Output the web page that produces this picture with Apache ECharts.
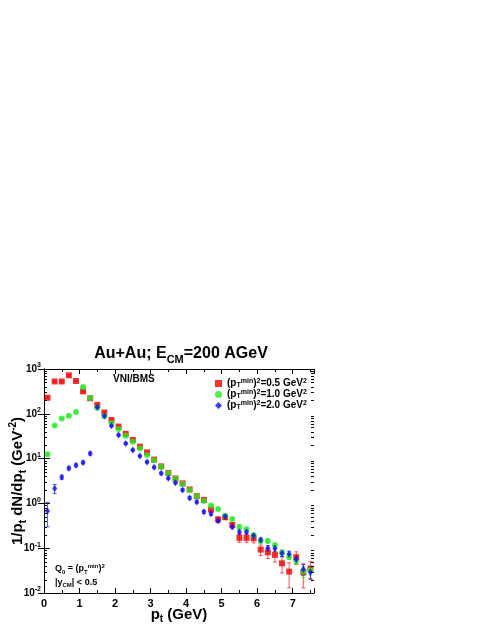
<!DOCTYPE html>
<html>
<head>
<meta charset="utf-8">
<title>Au+Au pt spectrum</title>
<script src="https://cdn.jsdelivr.net/npm/echarts@6/dist/echarts.min.js"></script>
<style>
html, body { margin: 0; padding: 0; background: #fff; }
#chart { width: 485px; height: 627px; }
</style>
</head>
<body>
<div id="chart"></div>
<script>
// pt bin centres (GeV)
var ptBins = [0.1, 0.3, 0.5, 0.7, 0.9, 1.1, 1.3, 1.5, 1.7, 1.9, 2.1, 2.3, 2.5, 2.7, 2.9, 3.1, 3.3, 3.5, 3.7,
	3.9, 4.1, 4.3, 4.5, 4.7, 4.9, 5.1, 5.3, 5.5, 5.7, 5.9, 6.1, 6.3, 6.5, 6.7, 6.9, 7.1, 7.3, 7.5];

// (pTmin)^2 = 0.5 GeV^2
var redVals = [228, 527, 527, 723, 540, 316, 222, 158, 107, 73, 52, 35.7, 26, 18.5, 13.8, 9.5, 6.7, 4.8, 3.6,
	2.8, 2.05, 1.45, 1.2, 0.73, 0.44, 0.49, 0.33, 0.17, 0.17, 0.166, 0.093, 0.081, 0.071, 0.046, 0.030, 0.063, 0.029, 0.035];
var redErr = [10, 20, 20, 30, 20, 12, 8, 6, 4, 3, 2, 1.4, 1, 0.8, 0.6, 0.4, 0.3, 0.22, 0.17,
	0.14, 0.1, 0.08, 0.07, 0.06, 0.05, 0.05, 0.04, 0.035, 0.035, 0.035, 0.025, 0.022, 0.022, 0.018, 0.017, 0.02, 0.016, 0.015];

// (pTmin)^2 = 1.0 GeV^2
var greenVals = [12.5, 55, 79, 91, 110, 395, 225, 137, 88, 62, 46, 32.5, 23.7, 17, 12, 9.2, 6.6, 4.75, 3.55,
	2.72, 2.0, 1.45, 1.13, 0.9, 0.75, 0.53, 0.45, 0.30, 0.264, 0.195, 0.145, 0.145, 0.117, 0.08, 0.065, 0.052, 0.030, 0.032];
var greenErr = [0.6, 2, 3, 3, 4, 12, 8, 5, 3, 2, 1.5, 1, 0.8, 0.6, 0.4, 0.3, 0.22, 0.17, 0.13,
	0.1, 0.08, 0.06, 0.05, 0.04, 0.035, 0.03, 0.025, 0.02, 0.018, 0.016, 0.014, 0.013, 0.012, 0.01, 0.009, 0.008, 0.008, 0.007];

// (pTmin)^2 = 2.0 GeV^2
var blueVals = [0.68, 2.15, 3.85, 6.1, 7.1, 8.2, 13, 140, 89, 54, 33.5, 21.8, 15.5, 11.4, 8.4, 6.4, 4.7, 3.65, 2.9,
	2.0, 1.32, 1.08, 0.65, 0.59, 0.41, 0.51, 0.30, 0.23, 0.23, 0.19, 0.152, 0.10, 0.10, 0.077, 0.074, 0.057, 0.034, 0.029];
var blueErr = [0.38, 0.5, 0.4, 0.5, 0.5, 0.6, 1, 6, 4, 2.5, 1.6, 1.1, 0.8, 0.6, 0.45, 0.35, 0.26, 0.2, 0.16,
	0.12, 0.09, 0.07, 0.05, 0.05, 0.035, 0.04, 0.03, 0.025, 0.022, 0.02, 0.018, 0.015, 0.015, 0.012, 0.012, 0.01, 0.009, 0.008];

var seriesNames = ['r05', 'r10', 'r20'];
var legendTexts = {
	r05: '{t|(p}{sb|T}{sp|min}{t|)}{sp|2}{t|=0.5 GeV}{sp|2}',
	r10: '{t|(p}{sb|T}{sp|min}{t|)}{sp|2}{t|=1.0 GeV}{sp|2}',
	r20: '{t|(p}{sb|T}{sp|min}{t|)}{sp|2}{t|=2.0 GeV}{sp|2}'
};

var xTickLabels = ['0', '1', '2', '3', '4', '5', '6', '7'];

var FONT = 'Liberation Sans, Arial, Helvetica, sans-serif';

/**
 * 数据点 [pt, value]
 */
function points(vals) {
	return ptBins.map(function(x, i) { return [x, vals[i]]; });
}

/**
 * 误差棒系列
 */
function errSeries(vals, errs, color) {
	var data = ptBins.map(function(x, i) {
		var lo = vals[i] - errs[i];
		if (lo < 0.0101) lo = 0.0101;
		return [x, vals[i], lo, vals[i] + errs[i]];
	});
	return {
		type: 'custom',
		silent: true,
		clip: true,
		z: 1,
		data: data,
		encode: { x: 0, y: 1 },
		renderItem: function(params, api) {
			var lo = api.coord([api.value(0), api.value(2)]);
			var hi = api.coord([api.value(0), api.value(3)]);
			var st = { stroke: color, lineWidth: 1, opacity: 0.75 };
			return {
				type: 'group',
				children: [
					{ type: 'line', shape: { x1: lo[0], y1: lo[1], x2: hi[0], y2: hi[1] }, style: st },
					{ type: 'line', shape: { x1: lo[0] - 2, y1: lo[1], x2: lo[0] + 2, y2: lo[1] }, style: st },
					{ type: 'line', shape: { x1: hi[0] - 2, y1: hi[1], x2: hi[0] + 2, y2: hi[1] }, style: st }
				]
			};
		}
	};
}

// log axis minor ticks (2..9 in each decade)
var minorTickVals = [];
for (var e = -2; e <= 2; e++) {
	for (var m = 2; m <= 9; m++) minorTickVals.push([0, m * Math.pow(10, e)]);
}

function tickSeries() {
	return {
		type: 'custom',
		silent: true,
		z: 5,
		data: minorTickVals,
		encode: { x: 0, y: 1 },
		renderItem: function(params, api) {
			var p = api.coord([0, api.value(1)]);
			var cs = params.coordSys;
			var st = { stroke: '#000', lineWidth: 1 };
			var y = Math.round(p[1]) + 0.5;
			return {
				type: 'group',
				children: [
					{ type: 'line', shape: { x1: cs.x, y1: y, x2: cs.x + 3, y2: y }, style: st },
					{ type: 'line', shape: { x1: cs.x + cs.width - 3, y1: y, x2: cs.x + cs.width, y2: y }, style: st }
				]
			};
		}
	};
}

var axisBase = {
	axisLine: { show: true, lineStyle: { color: '#000', width: 1 } },
	splitLine: { show: false }
};

function initChart() {
	var myChart = echarts.init(document.getElementById('chart'));

	var option = {
		backgroundColor: '#fff',
		animation: false,
		title: {
			text: '{a|Au+Au; E}{s|CM}{a|=200 AGeV}',
			left: 176,
			top: 338,
			textAlign: 'center',
			textStyle: {
				rich: {
					a: { fontFamily: FONT, fontSize: 16, fontWeight: 'bold', color: '#000', lineHeight: 22 },
					s: { fontFamily: FONT, fontSize: 11, fontWeight: 'bold', color: '#000', verticalAlign: 'bottom', lineHeight: 14 }
				}
			}
		},
		grid: { left: 44, top: 369, width: 270, height: 224, outerBoundsMode: 'none', containLabel: false },
		legend: {
			data: seriesNames,
			orient: 'vertical',
			left: 210,
			top: 373,
			itemWidth: 7,
			itemHeight: 7,
			itemGap: 0,
			selectedMode: false,
			formatter: function(name) { return legendTexts[name]; },
			textStyle: {
				rich: {
					t: { fontFamily: FONT, fontSize: 10, fontWeight: 'bold', color: '#000', lineHeight: 11 },
					sb: { fontFamily: FONT, fontSize: 7, fontWeight: 'bold', color: '#000', verticalAlign: 'bottom', lineHeight: 7 },
					sp: { fontFamily: FONT, fontSize: 7, fontWeight: 'bold', color: '#000', verticalAlign: 'top', lineHeight: 7 }
				}
			}
		},
		xAxis: [
			echarts.util.merge({
				type: 'value',
				min: 0,
				max: 7.6,
				interval: 1,
				position: 'bottom',
				name: '{a|p}{s|t}{a| (GeV)}',
				nameLocation: 'middle',
				nameGap: 12,
				nameMoveOverlap: false,
				nameTextStyle: {
					rich: {
						a: { fontFamily: FONT, fontSize: 15, fontWeight: 'bold', color: '#000', lineHeight: 19 },
						s: { fontFamily: FONT, fontSize: 10, fontWeight: 'bold', color: '#000', verticalAlign: 'bottom', lineHeight: 12 }
					}
				},
				axisTick: { show: true, inside: true, length: 5, lineStyle: { color: '#000' } },
				minorTick: { show: true, splitNumber: 2, length: 3, lineStyle: { color: '#000' } },
				axisLabel: {
					color: '#000', fontFamily: FONT, fontSize: 11, fontWeight: 'bold', margin: 5,
					showMaxLabel: false,
					formatter: function(v) {
						var i = Math.round(v);
						return Math.abs(v - i) < 1e-6 ? xTickLabels[i] : '';
					}
				}
			}, axisBase, true),
			echarts.util.merge({
				type: 'value',
				min: 0,
				max: 7.6,
				interval: 1,
				position: 'top',
				axisTick: { show: true, inside: true, length: 5, lineStyle: { color: '#000' } },
				minorTick: { show: true, splitNumber: 2, length: 3, lineStyle: { color: '#000' } },
				axisLabel: { show: false }
			}, axisBase, true)
		],
		yAxis: [
			echarts.util.merge({
				type: 'log',
				logBase: 10,
				min: 0.01,
				max: 1000,
				position: 'left',
				name: '{a|1/p}{s|t}{a| dN/dp}{s|t}{a| (GeV}{e|-2}{a|)}',
				nameLocation: 'middle',
				nameRotate: 90,
				nameGap: 16,
				nameMoveOverlap: false,
				nameTextStyle: {
					rich: {
						a: { fontFamily: FONT, fontSize: 15, fontWeight: 'bold', color: '#000', lineHeight: 20 },
						s: { fontFamily: FONT, fontSize: 10, fontWeight: 'bold', color: '#000', verticalAlign: 'bottom', lineHeight: 12 },
						e: { fontFamily: FONT, fontSize: 10, fontWeight: 'bold', color: '#000', verticalAlign: 'top', lineHeight: 10 }
					}
				},
				axisTick: { show: true, inside: true, length: 6, lineStyle: { color: '#000' } },
				axisLabel: {
					margin: 3,
					formatter: function(v) {
						var ex = Math.round(Math.log(v) / Math.LN10);
						return '{b|10}{e|' + ex + '}';
					},
					rich: {
						b: { fontFamily: FONT, fontSize: 10, fontWeight: 'bold', color: '#000', lineHeight: 14 },
						e: { fontFamily: FONT, fontSize: 7, fontWeight: 'bold', color: '#000', verticalAlign: 'top', lineHeight: 8 }
					}
				}
			}, axisBase, true),
			echarts.util.merge({
				type: 'log',
				logBase: 10,
				min: 0.01,
				max: 1000,
				position: 'right',
				axisTick: { show: true, inside: true, length: 6, lineStyle: { color: '#000' } },
				axisLabel: { show: false }
			}, axisBase, true)
		],
		graphic: [
			{
				type: 'text', left: 113, top: 374, silent: true,
				style: { text: 'VNI/BMS', fill: '#000', font: 'bold 10px ' + FONT }
			},
			{
				type: 'text', left: 55, top: 563, silent: true,
				style: {
					text: '{a|Q}{s|0}{a| = (p}{s|T}{e|min}{a|)}{e|2}',
					rich: {
						a: { fontFamily: FONT, fontSize: 9, fontWeight: 'bold', fill: '#000', lineHeight: 12 },
						s: { fontFamily: FONT, fontSize: 6, fontWeight: 'bold', fill: '#000', verticalAlign: 'bottom', lineHeight: 6 },
						e: { fontFamily: FONT, fontSize: 6, fontWeight: 'bold', fill: '#000', verticalAlign: 'top', lineHeight: 6 }
					}
				}
			},
			{
				type: 'text', left: 55, top: 578, silent: true,
				style: {
					text: '{a||y}{s|CM}{a|| < 0.5}',
					rich: {
						a: { fontFamily: FONT, fontSize: 9, fontWeight: 'bold', fill: '#000', lineHeight: 12 },
						s: { fontFamily: FONT, fontSize: 6, fontWeight: 'bold', fill: '#000', verticalAlign: 'bottom', lineHeight: 6 }
					}
				}
			}
		],
		series: [
			tickSeries(),
			errSeries(redVals, redErr, '#f02020'),
			errSeries(greenVals, greenErr, '#20e020'),
			errSeries(blueVals, blueErr, '#2020f0'),
			{ name: 'r05', type: 'scatter', symbol: 'rect', symbolSize: 6, z: 3, data: points(redVals), itemStyle: { color: '#f00000' } },
			{ name: 'r10', type: 'scatter', symbol: 'circle', symbolSize: 6, z: 3, data: points(greenVals), itemStyle: { color: '#22ee22' } },
			{ name: 'r20', type: 'scatter', symbol: 'diamond', symbolSize: [5, 7], z: 3, data: points(blueVals), itemStyle: { color: '#0a0aff' } }
		]
	};

	myChart.setOption(option);
}

initChart();
</script>
</body>
</html>
